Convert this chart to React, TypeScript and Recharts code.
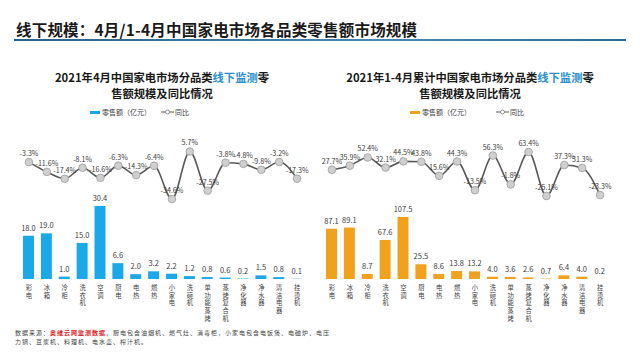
import React from "react";
import { ComposedChart, Bar, Line, XAxis, YAxis, LabelList } from "recharts";

const categories = ["彩电", "冰箱", "冷柜", "洗衣机", "空调", "厨电", "电热", "燃热", "小家电", "洗碗机", "单功能蒸烤", "蒸烤复合机", "净化器", "净水器", "清洁电器", "挂烫机"];
const aprSales = [18.0, 19.0, 1.0, 15.0, 30.4, 6.6, 2.0, 3.2, 2.2, 1.2, 0.8, 0.6, 0.2, 1.5, 0.8, 0.1];
const aprYoy = [-3.3, -11.6, -17.4, -8.1, -16.6, -6.3, -14.3, -6.4, -34.6, 5.7, -27.5, -3.8, -4.8, -9.8, -3.2, -17.3];
const ytdSales = [87.1, 89.1, 8.7, 67.6, 107.5, 25.5, 8.6, 13.8, 13.2, 4.0, 3.6, 2.6, 0.7, 6.4, 4.0, 0.2];
const ytdYoy = [27.7, 35.9, 52.4, 32.1, 44.5, 43.8, 15.6, 44.3, -13.5, 56.3, -1.8, 63.4, -25.1, 37.3, 31.3, -23.3];

const aprData = categories.map((c, i) => ({ name: c, sales: aprSales[i], yoy: aprYoy[i] }));
const ytdData = categories.map((c, i) => ({ name: c, sales: ytdSales[i], yoy: ytdYoy[i] }));

const FONT = "'Noto Sans CJK SC', 'Noto Sans', sans-serif";

const VerticalTick = (props: any) => {
  const { x, y, payload } = props;
  const chars = String(payload.value).split("");
  return (
    <g>
      {chars.map((ch, i) => (
        <text key={i} x={x} y={y + 3 + i * 7.7} textAnchor="middle" fontSize={6.3} fill="#404040" fontFamily={FONT}>
          {ch}
        </text>
      ))}
    </g>
  );
};

const Dot = (props: any) => {
  const { cx, cy } = props;
  return <circle cx={cx} cy={cy} r={3.8} fill="#cfcfcf" stroke="#a8a8a8" strokeWidth={1} />;
};

type PanelProps = {
  data: any[];
  left: number;
  color: string;
  barMax: number;
  lineDomain: [number, number];
};

const Panel = ({ data, left, color, barMax, lineDomain }: PanelProps) => (
  <div style={{ position: "absolute", left: left - 16, top: 120 }}>
    <ComposedChart
      width={318}
      height={220}
      data={data}
      margin={{ top: 10, right: 16, bottom: 0, left: 16 }}
    >
      <XAxis dataKey="name" interval={0} tickLine={false} axisLine={false} height={61} tick={<VerticalTick />} />
      <YAxis yAxisId="bar" hide domain={[0, barMax]} />
      <YAxis yAxisId="line" hide orientation="right" domain={lineDomain} />
      <Bar yAxisId="bar" dataKey="sales" fill={color} barSize={11} isAnimationActive={false}>
        <LabelList
          dataKey="sales"
          position="top"
          offset={5}
          fontSize={7.5}
          fill="#404040"
          fontFamily={FONT}
          formatter={(v: any) => Number(v).toFixed(1)}
        />
      </Bar>
      <Line
        yAxisId="line"
        type="monotone"
        dataKey="yoy"
        stroke="#595959"
        strokeWidth={1.6}
        dot={<Dot />}
        activeDot={false}
        isAnimationActive={false}
      >
        <LabelList
          dataKey="yoy"
          position="top"
          offset={6}
          fontSize={7.1}
          fill="#404040"
          fontFamily={FONT}
          formatter={(v: any) => `${Number(v).toFixed(1)}%`}
        />
      </Line>
    </ComposedChart>
  </div>
);

const Legend = ({ left, color, gap }: { left: number; color: string; gap: number }) => (
  <div style={{ position: "absolute", left, top: 106, height: 12, display: "flex", alignItems: "center", fontSize: 7, color: "#404040", fontFamily: FONT, whiteSpace: "nowrap" }}>
    <span style={{ display: "inline-block", width: 10, height: 3, background: color, marginRight: 2 }} />
    <span>零售额（亿元）</span>
    <span style={{ display: "inline-block", width: gap }} />
    <svg width={13} height={8} style={{ marginRight: 1 }}>
      <line x1={0} y1={4} x2={13} y2={4} stroke="#595959" strokeWidth={1} />
      <circle cx={6.5} cy={4} r={2} fill="#fff" stroke="#777" strokeWidth={0.8} />
    </svg>
    <span>同比</span>
  </div>
);

const ChartTitle = ({ center, first }: { center: number; first: string }) => (
  <div style={{ position: "absolute", left: center - 160, width: 320, top: 69, textAlign: "center", fontSize: 11.3, fontWeight: 700, lineHeight: "16px", color: "#1a1a1a", fontFamily: FONT, whiteSpace: "nowrap" }}>
    {first}
    <span style={{ color: "#2c8fd0" }}>线下监测</span>零
    <br />
    售额规模及同比情况
  </div>
);

export default function App() {
  return (
    <div style={{ position: "absolute", left: 0, top: 0, width: 640, height: 360, background: "#ffffff", overflow: "hidden", fontFamily: FONT }}>
      <div style={{ position: "absolute", left: 16, top: 18, fontSize: 15.5, fontWeight: 700, color: "#1a1a1a", letterSpacing: 0.2, whiteSpace: "nowrap" }}>
        线下规模：4月/1-4月中国家电市场各品类零售额市场规模
      </div>
      <div style={{ position: "absolute", left: 14, top: 39, width: 612, height: 2, background: "linear-gradient(to right, #2d5f86, #4a88b0 60%, #2d6a94)" }} />

      <ChartTitle center={162} first="2021年4月中国家电市场分品类" />
      <ChartTitle center={470} first="2021年1-4月累计中国家电市场分品类" />

      <Legend left={90} color="#1aa8e8" gap={10} />
      <Legend left={410} color="#f0a21e" gap={25} />

      <Panel data={aprData} left={20} color="#1aa8e8" barMax={62} lineDomain={[-102.3, 23.9]} />
      <Panel data={ytdData} left={323} color="#f0a21e" barMax={258} lineDomain={[-192.1, 107.7]} />

      <div style={{ position: "absolute", left: 15, top: 328, fontSize: 6, lineHeight: "9px", letterSpacing: 1, color: "#404040", whiteSpace: "nowrap" }}>
        数据来源：<span style={{ color: "#e0201e", fontWeight: 700 }}>奥维云网监测数据</span>，厨电包含油烟机、燃气灶、消毒柜，小家电包含电饭煲、电磁炉、电压
        <br />
        力锅、豆浆机、料理机、电水壶、榨汁机。
      </div>
    </div>
  );
}
